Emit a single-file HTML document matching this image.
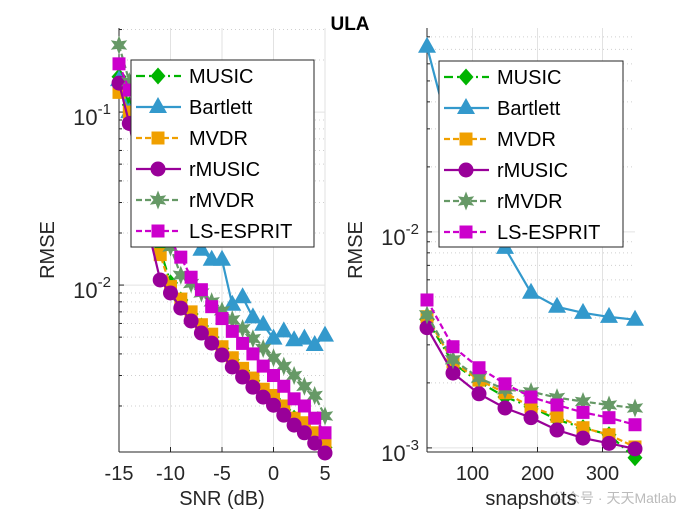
<!DOCTYPE html>
<html><head><meta charset="utf-8"><style>
body{margin:0;background:#fff;width:700px;height:525px;overflow:hidden}
svg{font-family:"Liberation Sans",Arial,sans-serif}
</style></head><body>
<svg id="c" width="700" height="525" xmlns="http://www.w3.org/2000/svg">
<text x="350" y="30" text-anchor="middle" font-size="19" font-weight="bold">ULA</text>
<text x="552" y="503" font-size="14" fill="#bbb" font-family="'Liberation Sans','Noto Sans CJK SC',sans-serif">公众号 · 天天Matlab</text>
</svg>
<script>
const snr=[-15,-14,-13,-12,-11,-10,-9,-8,-7,-6,-5,-4,-3,-2,-1,0,1,2,3,4,5];
const L_MUSIC=[0.16,0.11,0.06,0.03,0.016,0.0103,0.0082,0.0068,0.0058,0.0050,0.0043,0.0037,0.0032,0.0028,0.0024,0.0022,0.0019,0.0017,0.0015,0.0013,0.00115];
const L_Bartlett=[0.153,0.1,0.07,0.05,0.035,0.026,0.021,0.018,0.016,0.014,0.014,0.0077,0.0085,0.0065,0.0059,0.0049,0.0054,0.0048,0.0049,0.0045,0.0051];
const L_MVDR=[0.13,0.1,0.055,0.028,0.015,0.0098,0.0083,0.0070,0.0059,0.0052,0.0044,0.0038,0.0033,0.0029,0.0025,0.0023,0.0020,0.0017,0.0016,0.0014,0.00119];
const L_rMUSIC=[0.147,0.086,0.04,0.019,0.0107,0.0090,0.00736,0.0062,0.00528,0.00462,0.00394,0.00336,0.00294,0.00257,0.00225,0.00202,0.00177,0.00155,0.0014,0.00122,0.00107];
const L_rMVDR=[0.244,0.15,0.085,0.05,0.028,0.0166,0.0114,0.0102,0.0090,0.0080,0.0071,0.0063,0.0056,0.0049,0.0043,0.0038,0.0034,0.0030,0.0026,0.0023,0.00175];
const L_ESPRIT=[0.19,0.134,0.07,0.04,0.025,0.018,0.0145,0.0111,0.0094,0.0075,0.0064,0.0054,0.0046,0.0040,0.0034,0.0030,0.0026,0.0022,0.0020,0.0017,0.0014];
const snaps=[30,70,110,150,190,230,270,310,350];
const R_MUSIC=[0.00392,0.00247,0.00202,0.00172,0.00155,0.00135,0.00124,0.00115,0.00090];
const R_Bartlett=[0.072,0.025,0.013,0.00843,0.00523,0.0045,0.00422,0.00404,0.00392];
const R_MVDR=[0.00405,0.0025,0.00206,0.0018,0.00155,0.0014,0.00124,0.00115,0.00101];
const R_rMUSIC=[0.0036,0.00222,0.00178,0.00153,0.00138,0.00121,0.00111,0.00105,0.00099];
const R_rMVDR=[0.00413,0.00256,0.00211,0.00186,0.00182,0.00171,0.00164,0.00158,0.00153];
const R_ESPRIT=[0.00484,0.00294,0.00235,0.00198,0.00172,0.00158,0.00146,0.00138,0.00128];
const names=["MUSIC","Bartlett","MVDR","rMUSIC","rMVDR","LS-ESPRIT"];
const colors=["#00b400","#3399cc","#f0a000","#990099","#669966","#cc00cc"];
const dashes=["9,4,2,4","","6,3","","6,3","6,3"];
const marks=["diamond","tri","square","circle","star","square"];
const NS="http://www.w3.org/2000/svg";
const svg=document.getElementById('c');
function mk(t,a,p){const e=document.createElementNS(NS,t);for(const k in a)e.setAttribute(k,a[k]);(p||svg).appendChild(e);return e;}
function marker(g,type,x,y,col){
  let e;
  if(type==="circle")e=mk('circle',{cx:x,cy:y,r:7.5,fill:col},g);
  else if(type==="square")e=mk('rect',{x:x-6.5,y:y-6.5,width:13,height:13,fill:col},g);
  else if(type==="diamond")e=mk('polygon',{points:`${x},${y-8.5} ${x+7.5},${y} ${x},${y+8.5} ${x-7.5},${y}`,fill:col},g);
  else if(type==="tri")e=mk('polygon',{points:`${x},${y-10} ${x+9},${y+6} ${x-9},${y+6}`,fill:col},g);
  else{let p=[];for(let i=0;i<12;i++){const r=i%2?4.5:9.5,a=-Math.PI/2+i*Math.PI/6;p.push((x+r*Math.cos(a)).toFixed(1)+','+(y+r*Math.sin(a)).toFixed(1));}e=mk('polygon',{points:p.join(' '),fill:col},g);}
  
  
}
function axes(o){
  const {x0,x1,y0,y1,xmin,xmax,lmin,lmax,xt,data,xs,dec,xl,xlab,pre}=o;
  const X=v=>x0+(v-xmin)/(xmax-xmin)*(x1-x0);
  const Y=v=>y1-(Math.log10(v)-lmin)/(lmax-lmin)*(y1-y0);
  const g=mk('g',{});
  
  
  for(const t of xt){mk('line',{x1:X(t),x2:X(t),y1:y0,y2:y1,stroke:'#e2e2e2','stroke-width':1},g);}
  for(let d=Math.floor(lmin);d<=Math.ceil(lmax);d++)for(let m=1;m<10;m++){
    const v=m*Math.pow(10,d),lv=Math.log10(v);if(lv<lmin||lv>lmax)continue;
    if(m===1)mk('line',{x1:x0,x2:x1,y1:Y(v),y2:Y(v),stroke:'#e2e2e2'},g);
    else mk('line',{x1:x0,x2:x1,y1:Y(v),y2:Y(v),stroke:'#cfcfcf','stroke-dasharray':'1,3'},g);
    mk('line',{x1:x0,x2:x0+(m===1?5:3),y1:Y(v),y2:Y(v),stroke:'#262626'},g);
  }
  mk('line',{x1:x0,x2:x0,y1:y0,y2:y1,stroke:'#262626'},g);
  mk('line',{x1:x0,x2:x1,y1:y1,y2:y1,stroke:'#262626'},g);
  for(const t of xt){mk('line',{x1:X(t),x2:X(t),y1:y1,y2:y1-5,stroke:'#262626'},g);
    const tx=mk('text',{x:X(t),y:y1+28,'text-anchor':'middle','font-size':20,fill:'#262626'},g);tx.textContent=t<0?'-'+(-t):t;
    }
  for(const d of dec){const v=Math.pow(10,d);
    const tx=mk('text',{x:x0-8,y:Y(v)+13,'text-anchor':'end','font-size':22,fill:'#262626'},g);
    tx.innerHTML='10<tspan dy="-11" font-size="15">'+d+'</tspan>';
    }
  data.forEach((arr,i)=>{
    const s=mk('g',{});
    
    
    const pts=arr.map((v,j)=>X(xs[j]).toFixed(1)+','+Y(v).toFixed(1)).join(' ');
    const pl=mk('polyline',{points:pts,fill:'none',stroke:colors[i],'stroke-width':2.2},s);
    if(dashes[i])pl.setAttribute('stroke-dasharray',dashes[i]);
    arr.forEach((v,j)=>marker(s,marks[i],X(xs[j]),Y(v),colors[i]));
  });
  const lx=mk('text',{x:(x0+x1)/2,y:505,'text-anchor':'middle','font-size':20,fill:'#262626'});
  lx.textContent=xlab;
  const ly=mk('text',{x:0,y:0,'text-anchor':'middle','font-size':20,fill:'#262626',transform:`translate(${xl},250) rotate(-90)`});
  ly.textContent='RMSE';
}
function legend(x,y,w,h,pre){
  const g=mk('g',{});
  
  
  mk('rect',{x,y,width:w,height:h,fill:'#fff',stroke:'#262626'},g);
  names.forEach((n,i)=>{
    const yy=y+16+i*31;
    const e=mk('g',{},g);
    
    
    const l=mk('line',{x1:x+5,x2:x+50,y1:yy,y2:yy,stroke:colors[i],'stroke-width':2.2},e);
    if(dashes[i])l.setAttribute('stroke-dasharray',dashes[i]);
    marker(e,marks[i],x+27,yy,colors[i]);
    const t=mk('text',{x:x+58,y:yy+7,'font-size':20,fill:'#000'},e);t.textContent=n;
  });
}
axes({x0:119,x1:325,y0:28,y1:452,xmin:-15,xmax:5,lmin:-2.965,lmax:-0.514,xt:[-15,-10,-5,0,5],data:[L_MUSIC,L_Bartlett,L_MVDR,L_rMUSIC,L_rMVDR,L_ESPRIT],xs:snr,dec:[-1,-2],xl:54,xlab:'SNR (dB)',pre:'left'});
axes({x0:427,x1:635,y0:28,y1:452,xmin:30,xmax:350,lmin:-3.019,lmax:-1.056,xt:[100,200,300],data:[R_MUSIC,R_Bartlett,R_MVDR,R_rMUSIC,R_rMVDR,R_ESPRIT],xs:snaps,dec:[-2,-3],xl:362,xlab:'snapshots',pre:'right'});
legend(131,60,183,187,'left');
legend(439,61,184,186,'right');
</script>
</body></html>
